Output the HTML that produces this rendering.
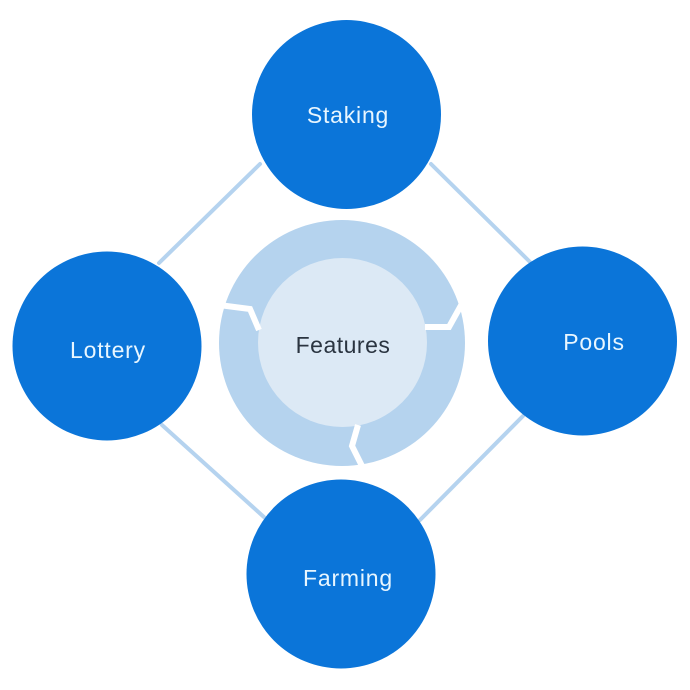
<!DOCTYPE html>
<html><head><style>
html,body{margin:0;padding:0;background:#fff;width:690px;height:690px;overflow:hidden}
</style></head><body>
<svg width="690" height="690" viewBox="0 0 690 690" xmlns="http://www.w3.org/2000/svg">
<g stroke="#b5d3ef" stroke-width="4" stroke-linecap="round">
<line x1="260" y1="164" x2="159" y2="263"/>
<line x1="431" y1="164" x2="530" y2="262"/>
<line x1="162" y1="425" x2="265" y2="518"/>
<line x1="523" y1="416" x2="420" y2="520"/>
</g>
<circle cx="342" cy="343" r="123" fill="#b5d3ee"/>
<circle cx="342.5" cy="342.5" r="84.5" fill="#dce9f5"/>
<g fill="none" stroke="#fff" stroke-width="6" stroke-linejoin="miter">
<polyline points="219,305 250,309 259,330"/>
<polyline points="425,327 449,327 464,300"/>
<polyline points="358,425 352,446 363,468"/>
</g>
<g fill="#0b75d9">
<circle cx="346.5" cy="114.5" r="94.5"/>
<circle cx="582.5" cy="341" r="94.5"/>
<circle cx="107" cy="346" r="94.5"/>
<circle cx="341" cy="574" r="94.5"/>
</g>
<g font-family="Liberation Sans, sans-serif" font-size="23" letter-spacing="0.8" fill="#e8f6ff" text-anchor="middle">
<text x="348" y="123">Staking</text>
<text x="594" y="350">Pools</text>
<text x="108" y="358">Lottery</text>
<text x="348" y="586">Farming</text>
</g>
<text x="343" y="353" font-family="Liberation Sans, sans-serif" font-size="23" letter-spacing="0.5" fill="#2a3440" text-anchor="middle">Features</text>
</svg>
</body></html>
